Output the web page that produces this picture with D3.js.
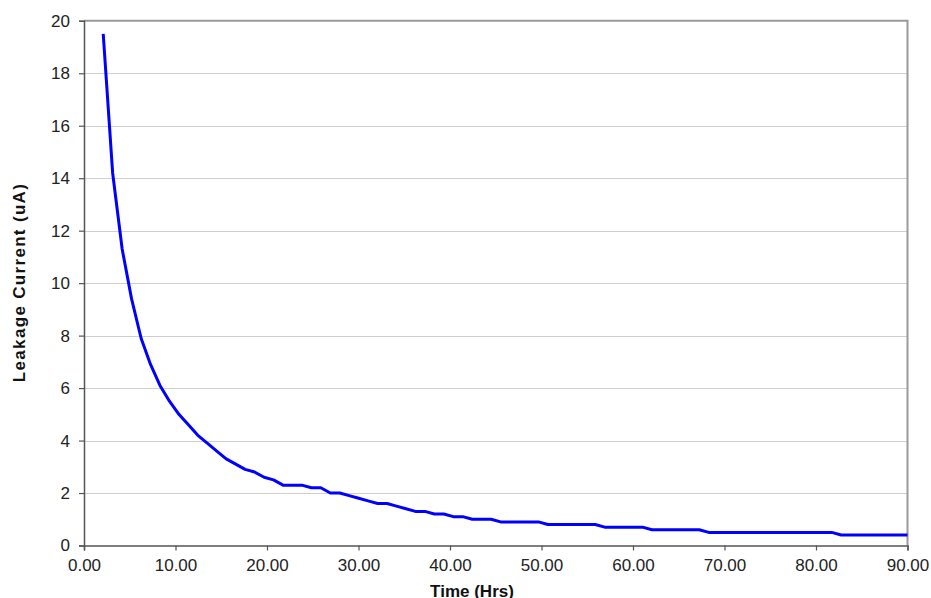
<!DOCTYPE html>
<html>
<head>
<meta charset="utf-8">
<script src="https://cdn.jsdelivr.net/npm/d3@7"></script>
<style>
  html, body { margin: 0; padding: 0; background: #fff; }
  svg { display: block; }
  text { font-family: "Liberation Sans", Arial, sans-serif; }
</style>
</head>
<body>
<svg id="chart" width="931" height="598"></svg>
<script>
const timeHrs = [2.10, 3.13, 4.17, 5.20, 6.24, 7.27, 8.30, 9.34, 10.37, 11.41,
  12.44, 13.47, 14.51, 15.54, 16.58, 17.61, 18.64, 19.68, 20.71, 21.75,
  22.78, 23.81, 24.85, 25.88, 26.92, 27.95, 28.98, 30.02, 31.05, 32.09,
  33.12, 34.15, 35.19, 36.22, 37.26, 38.29, 39.32, 40.36, 41.39, 42.43,
  43.46, 44.49, 45.53, 46.56, 47.60, 48.63, 49.66, 50.70, 51.73, 52.77,
  53.80, 54.83, 55.87, 56.90, 57.94, 58.97, 60.00, 61.04, 62.07, 63.11,
  64.14, 65.17, 66.21, 67.24, 68.28, 69.31, 70.34, 71.38, 72.41, 73.45,
  74.48, 75.51, 76.55, 77.58, 78.62, 79.65, 80.68, 81.72, 82.75, 83.79,
  84.82, 85.85, 86.89, 87.92, 88.96, 90.00];
const leakage = [19.5, 14.2, 11.3, 9.4, 7.9, 6.9, 6.1, 5.5, 5.0, 4.6,
  4.2, 3.9, 3.6, 3.3, 3.1, 2.9, 2.8, 2.6, 2.5, 2.3,
  2.3, 2.3, 2.2, 2.2, 2.0, 2.0, 1.9, 1.8, 1.7, 1.6,
  1.6, 1.5, 1.4, 1.3, 1.3, 1.2, 1.2, 1.1, 1.1, 1.0,
  1.0, 1.0, 0.9, 0.9, 0.9, 0.9, 0.9, 0.8, 0.8, 0.8,
  0.8, 0.8, 0.8, 0.7, 0.7, 0.7, 0.7, 0.7, 0.6, 0.6,
  0.6, 0.6, 0.6, 0.6, 0.5, 0.5, 0.5, 0.5, 0.5, 0.5,
  0.5, 0.5, 0.5, 0.5, 0.5, 0.5, 0.5, 0.5, 0.4, 0.4,
  0.4, 0.4, 0.4, 0.4, 0.4, 0.4];
const xTicks = [0, 10, 20, 30, 40, 50, 60, 70, 80, 90];
const yTicks = [0, 2, 4, 6, 8, 10, 12, 14, 16, 18, 20];
const xTitle = "Time (Hrs)";
const yTitle = "Leakage Current (uA)";

const data = timeHrs.map((t, i) => ({ t: t, v: leakage[i] }));

const svg = d3.select("#chart");
const x = d3.scaleLinear().domain([0, 90]).range([84, 907.5]);
const y = d3.scaleLinear().domain([0, 20]).range([545.5, 20.8]);

// gridlines
svg.append("g").selectAll("line").data(yTicks.filter(d => d > 0 && d < 20)).join("line")
  .attr("x1", x(0)).attr("x2", x(90))
  .attr("y1", d => Math.round(y(d)) + 0.5).attr("y2", d => Math.round(y(d)) + 0.5)
  .attr("stroke", "#cfcfcf").attr("stroke-width", 1);

// plot frame top & right
svg.append("path")
  .attr("d", `M${x(0)},${y(20)}H${x(90)}V${y(0)}`)
  .attr("fill", "none").attr("stroke", "#9a9a9a").attr("stroke-width", 2);

// line
svg.append("path").datum(data)
  .attr("fill", "none").attr("stroke", "#0000ff").attr("stroke-width", 3)
  .attr("stroke-linejoin", "round").attr("stroke-linecap", "butt")
  .attr("d", d3.line().x(d => x(d.t)).y(d => y(d.v)));

// axes
const xAxis = d3.axisBottom(x).tickValues(xTicks).tickFormat(d3.format(".2f")).tickSizeOuter(0).tickSize(5).tickPadding(8);
const yAxis = d3.axisLeft(y).tickValues(yTicks).tickFormat(d3.format("d")).tickSizeOuter(0).tickSize(5).tickPadding(9);

const gx = svg.append("g").attr("transform", `translate(0,${y(0)})`).call(xAxis);
const gy = svg.append("g").attr("transform", `translate(${x(0)},0)`).call(yAxis);
[gx, gy].forEach(g => {
  g.select(".domain").attr("stroke", "#555").attr("stroke-width", 1.5);
  g.selectAll(".tick line").attr("stroke", "#555").attr("stroke-width", 1.2);
  g.selectAll(".tick text").attr("fill", "#222").style("font-size", "17px")
    .style("font-family", "'Liberation Sans', Arial, sans-serif");
});

// titles
svg.append("text").attr("x", 472).attr("y", 597)
  .attr("text-anchor", "middle").style("font-weight", "bold").style("font-size", "17px")
  .attr("fill", "#111").text(xTitle);
svg.append("text").attr("transform", `translate(25,${(y(0) + y(20)) / 2}) rotate(-90)`)
  .attr("text-anchor", "middle").style("font-weight", "bold").style("font-size", "17px")
  .attr("textLength", 198).attr("lengthAdjust", "spacing")
  .attr("fill", "#111").text(yTitle);
</script>
</body>
</html>
